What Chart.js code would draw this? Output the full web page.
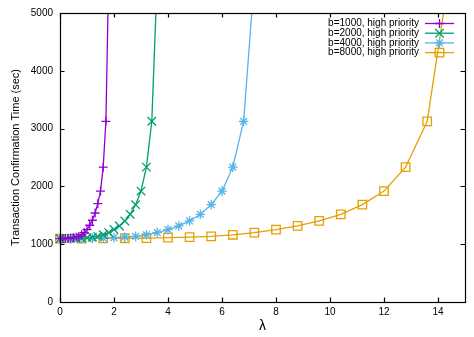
<!DOCTYPE html>
<html>
<head>
<meta charset="utf-8">
<script src="https://cdn.jsdelivr.net/npm/chart.js@4/dist/chart.umd.min.js"></script>
<style>
  html, body { margin: 0; padding: 0; background: #fff; }
  canvas { display: block; }
</style>
</head>
<body>
<canvas id="confChart" width="474" height="337"></canvas>
<script>
// tick labels
const xTicks = [0, 2, 4, 6, 8, 10, 12, 14]
const yTicks = [0, 1000, 2000, 3000, 4000, 5000]

const seriesLabels = [
  'b=1000, high priority',
  'b=2000, high priority',
  'b=4000, high priority',
  'b=8000, high priority',
]

// arrival rate for each block size
const lambda1000 = [0, 0.1, 0.2, 0.3, 0.4, 0.5, 0.6, 0.7, 0.8, 0.9, 1.0, 1.1, 1.2, 1.3, 1.4, 1.5, 1.6, 1.7, 1.8]
const lambda2000 = [0, 0.2, 0.4, 0.6, 0.8, 1.0, 1.2, 1.4, 1.6, 1.8, 2.0, 2.2, 2.4, 2.6, 2.8, 3.0, 3.2, 3.4, 3.6]
const lambda4000 = [0, 0.4, 0.8, 1.2, 1.6, 2.0, 2.4, 2.8, 3.2, 3.6, 4.0, 4.4, 4.8, 5.2, 5.6, 6.0, 6.4, 6.8, 7.2]
const lambda8000 = [0, 0.8, 1.6, 2.4, 3.2, 4.0, 4.8, 5.6, 6.4, 7.2, 8.0, 8.8, 9.6, 10.4, 11.2, 12.0, 12.8, 13.6, 14.4]

// confirmation time (sec)
const time1000 = [1095, 1097, 1100, 1103, 1106, 1113, 1122, 1135, 1163, 1201, 1253, 1328, 1414, 1540, 1701, 1919, 2333, 3126, 5600]
const time2000 = [1095, 1097, 1100, 1103, 1106, 1113, 1122, 1135, 1163, 1201, 1253, 1316, 1402, 1517, 1684, 1919, 2333, 3126, 5600]
const time4000 = [1095, 1097, 1100, 1103, 1106, 1113, 1122, 1135, 1163, 1201, 1253, 1316, 1402, 1517, 1684, 1919, 2333, 3126, 5600]
const time8000 = [1095, 1097, 1100, 1103, 1106, 1113, 1122, 1135, 1163, 1201, 1253, 1316, 1402, 1517, 1684, 1919, 2333, 3126, 5600]

const FONT = '"Liberation Sans", Arial, Helvetica, sans-serif'

const series = [
  { label: seriesLabels[0], x: lambda1000, y: time1000, color: '#9400d3', marker: 'cross', radius: 4.5 },
  { label: seriesLabels[1], x: lambda2000, y: time2000, color: '#009e73', marker: 'crossRot', radius: 6 },
  { label: seriesLabels[2], x: lambda4000, y: time4000, color: '#56b4e9', marker: 'star', radius: 4.8 },
  { label: seriesLabels[3], x: lambda8000, y: time8000, color: '#e69f00', marker: 'rect', radius: 6 },
]

// gnuplot-style frame: border with inward ticks on all four sides
const framePlugin = {
  id: 'frame',
  afterDraw(chart) {
    const { ctx, chartArea: a, scales } = chart
    const len = 4.5
    ctx.save()
    ctx.strokeStyle = '#000'
    ctx.lineWidth = 1.2
    ctx.beginPath()
    scales.x.ticks.forEach(t => {
      const px = Math.round(scales.x.getPixelForValue(t.value)) + 0.5
      ctx.moveTo(px, a.bottom); ctx.lineTo(px, a.bottom - len)
      ctx.moveTo(px, a.top); ctx.lineTo(px, a.top + len)
    })
    scales.y.ticks.forEach(t => {
      const py = Math.round(scales.y.getPixelForValue(t.value)) + 0.5
      ctx.moveTo(a.left, py); ctx.lineTo(a.left + len, py)
      ctx.moveTo(a.right, py); ctx.lineTo(a.right - len, py)
    })
    ctx.stroke()
    ctx.strokeRect(Math.round(a.left) + 0.5, Math.round(a.top) + 0.5,
      Math.round(a.right - a.left), Math.round(a.bottom - a.top))
    ctx.restore()
  }
}

// key in the top right corner, text followed by a line sample with its marker
const keyPlugin = {
  id: 'key',
  afterDraw(chart) {
    const { ctx, chartArea: a } = chart
    const textRight = a.right - 46
    const lineStart = a.right - 40
    const lineEnd = a.right - 11
    ctx.save()
    ctx.font = '10px ' + FONT
    ctx.textAlign = 'right'
    ctx.textBaseline = 'middle'
    chart.data.datasets.forEach((ds, i) => {
      const y = a.top + 10.5 + i * 9.7
      ctx.fillStyle = '#000'
      ctx.fillText(ds.label, textRight, y)
      ctx.strokeStyle = ds.borderColor
      ctx.lineWidth = ds.borderWidth
      ctx.beginPath()
      ctx.moveTo(lineStart, y)
      ctx.lineTo(lineEnd, y)
      ctx.stroke()
      ctx.fillStyle = 'rgba(0,0,0,0)'
      ctx.lineWidth = ds.pointBorderWidth
      Chart.helpers.drawPoint(ctx, {
        pointStyle: ds.pointStyle, radius: ds.pointRadius,
        borderWidth: ds.pointBorderWidth, rotation: 0
      }, (lineStart + lineEnd) / 2, y)
    })
    ctx.restore()
  }
}

const ctx = document.getElementById('confChart').getContext('2d')

new Chart(ctx, {
  type: 'line',
  data: {
    datasets: series.map(s => ({
      label: s.label,
      data: s.x.map((x, i) => ({ x, y: s.y[i] })),
      borderColor: s.color,
      backgroundColor: 'rgba(0,0,0,0)',
      borderWidth: 1.3,
      pointStyle: s.marker,
      pointRadius: s.radius,
      pointHoverRadius: s.radius,
      pointBorderColor: s.color,
      pointBackgroundColor: 'rgba(0,0,0,0)',
      pointBorderWidth: 1.3,
      tension: 0,
      fill: false,
      clip: { left: 10, top: 0, right: 0, bottom: 10 },
    })),
  },
  options: {
    responsive: false,
    devicePixelRatio: 1,
    animation: false,
    layout: { padding: { top: 12, right: 9, left: 0, bottom: 0 } },
    plugins: {
      legend: { display: false },
      tooltip: { enabled: false },
    },
    scales: {
      x: {
        type: 'linear',
        min: 0,
        max: 15,
        afterBuildTicks: (scale) => { scale.ticks = xTicks.map(v => ({ value: v })) },
        afterFit: (scale) => { scale.height = 35 },
        grid: { display: false, drawTicks: false },
        border: { display: false },
        ticks: {
          color: '#000', padding: 4, maxRotation: 0,
          font: { family: FONT, size: 10 },
          callback: (v) => String(v),
        },
        title: {
          display: true,
          text: 'λ',
          color: '#000',
          font: { family: FONT, size: 14 },
          padding: { top: 0, bottom: 2 },
        },
      },
      y: {
        min: 0,
        max: 5000,
        afterBuildTicks: (scale) => { scale.ticks = yTicks.map(v => ({ value: v })) },
        afterFit: (scale) => { scale.width = 60 },
        grid: { display: false, drawTicks: false },
        border: { display: false },
        ticks: {
          color: '#000', padding: 7,
          font: { family: FONT, size: 10 },
          callback: (v) => String(v),
        },
        title: {
          display: true,
          text: 'Transaction Confirmation Time (sec)',
          color: '#000',
          font: { family: FONT, size: 11 },
          padding: { top: 9.5, bottom: 0 },
        },
      },
    },
  },
  plugins: [framePlugin, keyPlugin],
})
</script>
</body>
</html>
